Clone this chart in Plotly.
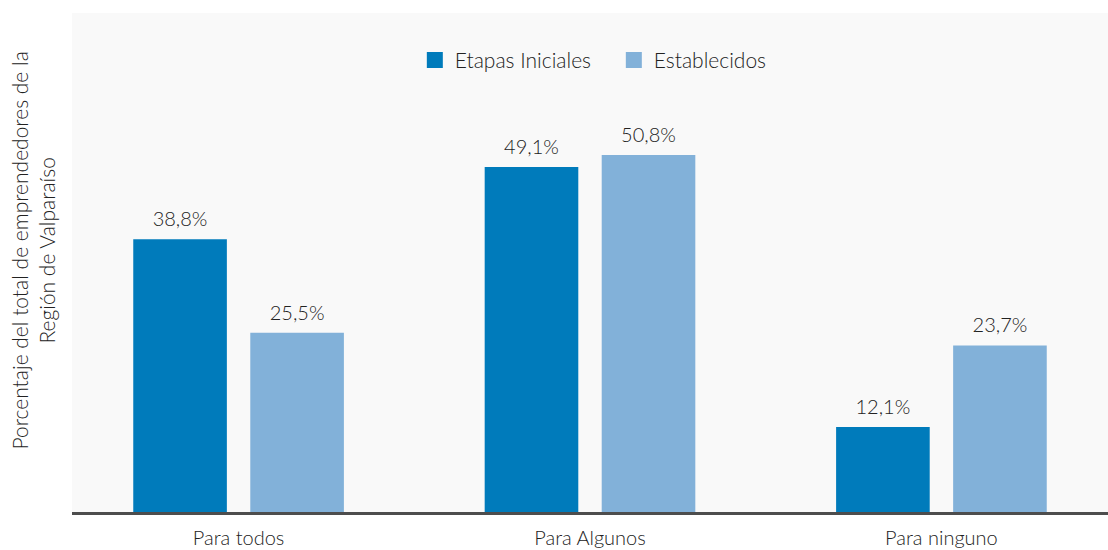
import plotly.graph_objects as go

# Categories and series values (percent of entrepreneurs)
categories = ["Para todos", "Para Algunos", "Para ninguno"]
etapas_iniciales = [38.8, 49.1, 12.1]
establecidos = [25.5, 50.8, 23.7]
series_names = ["Etapas Iniciales", "Establecidos"]

DARK = "#007bbb"
LIGHT = "#82b1d9"
TEXT = "#222222"
FONT = "Lato"
W = 300  # light weight

fig = go.Figure()
for name, values, color in [
    (series_names[0], etapas_iniciales, DARK),
    (series_names[1], establecidos, LIGHT),
]:
    fig.add_trace(go.Bar(
        x=categories,
        y=values,
        name=name,
        marker=dict(color=color, line=dict(width=0)),
        # small spacer line lifts the label a little above the bar
        texttemplate="<span style='font-size:20px'>%{y:.1f}%</span><br> ",
        textposition="outside",
        textfont=dict(family=FONT, size=7, color=TEXT, weight=W),
        cliponaxis=False,
        showlegend=False,
    ))
    # legend entries drawn as square markers
    fig.add_trace(go.Scatter(
        x=[None], y=[None], mode="markers", name=name,
        marker=dict(symbol="square", size=18, color=color),
    ))

fig.update_layout(
    width=1108, height=550,
    margin=dict(l=72, r=0, t=13, b=38),
    paper_bgcolor="white",
    plot_bgcolor="#f9f9f9",
    barmode="group",
    bargap=0.334,
    bargroupgap=0.2,
    separators=",.",
    font=dict(family=FONT, size=20, color=TEXT, weight=W),
    legend=dict(
        orientation="h", x=0.523, xanchor="center", y=0.905, yanchor="middle",
        font=dict(family=FONT, size=21, color=TEXT, weight=W),
        bgcolor="rgba(0,0,0,0)", itemsizing="trace",
        entrywidth=154, entrywidthmode="pixels",
    ),
    xaxis=dict(
        range=[-0.474, 2.474], showgrid=False, zeroline=False,
        showline=True, linecolor="#4d4d4d", linewidth=3,
        ticks="", ticklabelstandoff=6,
        tickfont=dict(family=FONT, size=20, color=TEXT, weight=W),
        fixedrange=True,
    ),
    yaxis=dict(
        range=[0, 71], showgrid=False, zeroline=False, showticklabels=False,
        showline=False, fixedrange=True,
    ),
    annotations=[dict(
        text="Porcentaje del total de emprendedores de la<br>Región de Valparaíso",
        textangle=-90, xref="paper", yref="paper", x=0, y=0.5,
        xanchor="center", yanchor="middle", xshift=-40, yshift=12,
        showarrow=False, font=dict(family=FONT, size=21, color=TEXT, weight=W),
    )],
)

fig.write_html("out.html")
